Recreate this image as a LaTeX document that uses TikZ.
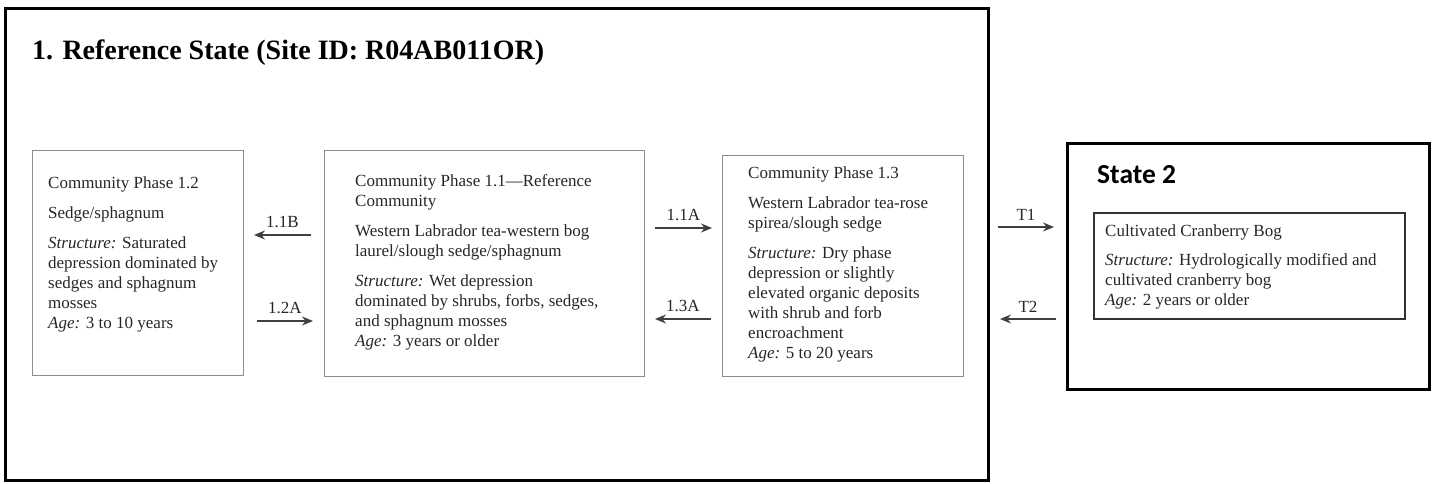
\documentclass[tikz,border=0pt]{standalone}
\usepackage{fontspec}
\setmainfont{Liberation Serif}
\newfontfamily\statefont{Carlito}
\usetikzlibrary{positioning, arrows.meta}

\begin{document}
\begin{tikzpicture}[
    x=1pt, y=-1pt,
    state_frame/.style={draw=black, line width=2.6pt, inner sep=0pt, anchor=north west},
    phase_box/.style={draw=black!45, line width=1.2pt, inner sep=0pt, anchor=north west},
    bog_box/.style={draw=black!80, line width=1.8pt, inner sep=0pt, anchor=north west},
    phase_text/.style={align=left, inner sep=0pt, text=black!85, font=\fontsize{17}{20}\selectfont},
    edge_path/.style={-{Stealth[length=11pt, width=9pt]}, line width=1.7pt, draw=black!75},
    edge_label/.style={above=6pt, inner sep=0pt, text=black!85, font=\fontsize{17}{20}\selectfont}
  ]
    \useasboundingbox (0,0) rectangle (1435,483);

    % state frames
    \node[state_frame, minimum width=983pt, minimum height=472pt] (S1) at (4,7) {};
    \node[state_frame, minimum width=362pt, minimum height=246pt] (S2) at (1066,142) {};
    \node[anchor=base west, inner sep=0pt, font=\fontsize{28}{30}\selectfont\bfseries] (S1title) at (32,59)
      {1. Reference State (Site ID: R04AB011OR)};
    \node[anchor=base west, inner sep=0pt, font=\fontsize{27.5}{30}\statefont\bfseries] (S2title) at (1097,183)
      {State 2};

    % community phases
    \node[phase_box, minimum width=211pt, minimum height=225pt] (P12) at (32,150) {};
    \node[phase_box, minimum width=320pt, minimum height=226pt] (P11) at (324,150) {};
    \node[phase_box, minimum width=241pt, minimum height=221pt] (P13) at (722,155) {};
    \node[bog_box, minimum width=311pt, minimum height=106pt] (CB) at (1093,212) {};

    \node[phase_text, below right=26pt and 16pt of P12.north west] (P12txt)
      {Community Phase 1.2\\[10pt]
       Sedge/sphagnum\\[10pt]
       \textit{Structure:} Saturated\\
       depression dominated by\\
       sedges and sphagnum\\
       mosses\\
       \textit{Age:} 3 to 10 years};

    \node[phase_text, below right=24pt and 31pt of P11.north west] (P11txt)
      {Community Phase 1.1---Reference\\
       Community\\[10pt]
       Western Labrador tea-western bog\\
       laurel/slough sedge/sphagnum\\[10pt]
       \textit{Structure:} Wet depression\\
       dominated by shrubs, forbs, sedges,\\
       and sphagnum mosses\\
       \textit{Age:} 3 years or older};

    \node[phase_text, below right=11pt and 26pt of P13.north west] (P13txt)
      {Community Phase 1.3\\[10pt]
       Western Labrador tea-rose\\
       spirea/slough sedge\\[10pt]
       \textit{Structure:} Dry phase\\
       depression or slightly\\
       elevated organic deposits\\
       with shrub and forb\\
       encroachment\\
       \textit{Age:} 5 to 20 years};

    \node[phase_text, below right=12pt and 12pt of CB.north west] (CBtxt)
      {Cultivated Cranberry Bog\\[9pt]
       \textit{Structure:} Hydrologically modified and\\
       cultivated cranberry bog\\
       \textit{Age:} 2 years or older};

    % transition ends
    \coordinate (a11B) at (311,235);
    \coordinate (b11B) at (254,235);
    \coordinate (a12A) at (257,321);
    \coordinate (b12A) at (313,321);
    \coordinate (a11A) at (655,228);
    \coordinate (b11A) at (712,228);
    \coordinate (a13A) at (711,319);
    \coordinate (b13A) at (655,319);
    \coordinate (aT1) at (998,227);
    \coordinate (bT1) at (1054,227);
    \coordinate (aT2) at (1056,319);
    \coordinate (bT2) at (1000,319);

    \draw[edge_path] (a11B) -- node[edge_label] {1.1B} (b11B);
    \draw[edge_path] (a12A) -- node[edge_label] {1.2A} (b12A);
    \draw[edge_path] (a11A) -- node[edge_label] {1.1A} (b11A);
    \draw[edge_path] (a13A) -- node[edge_label] {1.3A} (b13A);
    \draw[edge_path] (aT1) -- node[edge_label] {T1} (bT1);
    \draw[edge_path] (aT2) -- node[edge_label] {T2} (bT2);
  \end{tikzpicture}
\end{document}
